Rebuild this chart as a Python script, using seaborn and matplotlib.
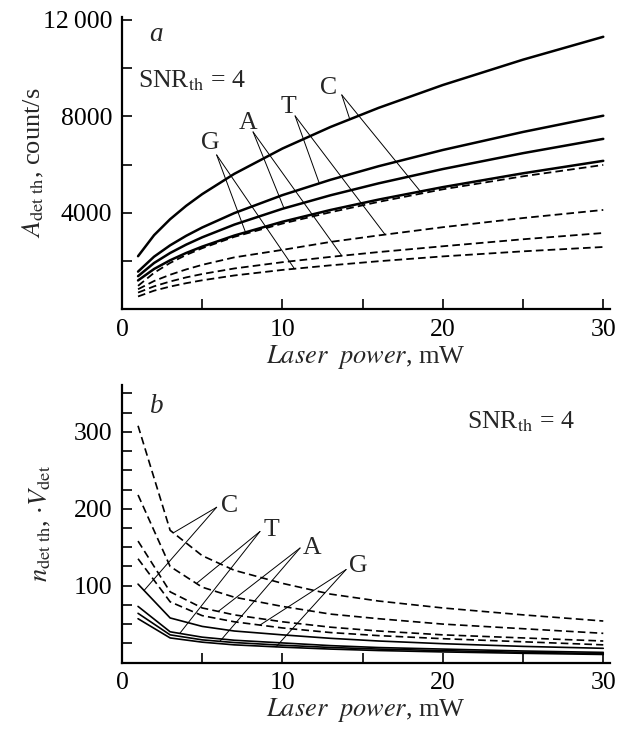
import numpy as np
import pandas as pd
import matplotlib
matplotlib.use("Agg")
import matplotlib.pyplot as plt
import seaborn as sns

# ---- data -------------------------------------------------------------
bases = ["C", "T", "A", "G"]

# panel a: threshold detection rate vs laser power
power_a = [1, 2, 3, 4, 5, 7, 10, 13, 16, 20, 25, 30]
rate_solid = {
    "C": [2208, 3080, 3741, 4296, 4781, 5621, 6669, 7564, 8356, 9302, 10353, 11300],
    "T": [1569, 2189, 2659, 3053, 3398, 3994, 4739, 5375, 5938, 6610, 7357, 8030],
    "A": [1381, 1927, 2341, 2688, 2991, 3517, 4173, 4733, 5228, 5820, 6478, 7070],
    "G": [1204, 1679, 2040, 2342, 2606, 3064, 3636, 4124, 4555, 5071, 5644, 6160],
}
rate_dashed = {
    "C": [980, 1520, 1930, 2260, 2540, 3010, 3560, 4030, 4460, 4980, 5520, 5990],
    "T": [840, 1180, 1440, 1660, 1850, 2160, 2470, 2800, 3070, 3410, 3790, 4125],
    "A": [700, 960, 1160, 1330, 1470, 1700, 1960, 2180, 2380, 2620, 2910, 3170],
    "G": [540, 780, 950, 1090, 1210, 1410, 1640, 1830, 2000, 2200, 2410, 2590],
}

# panel b: threshold molecule number times detection volume
power_b = [1, 3, 5, 7, 10, 13, 16, 20, 25, 30]
num_solid = {
    "C": [102, 58, 47, 41, 36, 31.5, 28, 24.5, 21, 18.5],
    "T": [73, 40, 33, 29, 25.5, 22, 19.5, 17.5, 15, 13.2],
    "A": [64, 36, 29.5, 26, 22.5, 19.6, 17.5, 15.5, 13.3, 11.6],
    "G": [57, 32, 26.5, 23, 20, 17.5, 15.6, 13.8, 12, 10.5],
}
num_dashed = {
    "C": [308, 172, 139, 120, 103, 89, 80, 71, 62, 54],
    "T": [218, 125, 98, 85, 73, 63, 57, 50, 44, 38],
    "A": [158, 92, 71, 62, 53, 46, 41, 36, 32, 28],
    "G": [135, 79, 61, 53, 45, 39, 35, 31, 27, 23],
}

# label text position, line start and the x positions where leader lines meet curves
callouts_a = {
    "C": {"text": (12.86, 9169), "start": (13.7, 8891), "solid_x": 14.2, "dashed_x": 18.7},
    "T": {"text": (10.37, 8406), "start": (10.79, 8021), "solid_x": 12.3, "dashed_x": 16.4},
    "A": {"text": (7.86, 7730), "start": (8.17, 7358), "solid_x": 10.1, "dashed_x": 13.7},
    "G": {"text": (5.49, 6900), "start": (5.9, 6404), "solid_x": 7.7, "dashed_x": 10.75},
}
callouts_b = {
    "C": {"text": (6.73, 203), "start": (5.9, 202), "solid_x": 1.375, "dashed_x": 3.2},
    "T": {"text": (9.33, 173), "start": (8.6, 170.5), "solid_x": 3.6, "dashed_x": 4.64},
    "A": {"text": (11.83, 149), "start": (11.1, 149), "solid_x": 6.1, "dashed_x": 6.0},
    "G": {"text": (14.73, 125), "start": (13.97, 121), "solid_x": 9.6, "dashed_x": 8.6},
}


def long_frame(power, solid, dashed):
    rows = []
    for kind, table in (("solid", solid), ("dashed", dashed)):
        for b in bases:
            for p, v in zip(power, table[b]):
                rows.append({"power": p, "value": v, "base": b, "kind": kind})
    return pd.DataFrame(rows)


df_a = long_frame(power_a, rate_solid, rate_dashed)
df_b = long_frame(power_b, num_solid, num_dashed)

# ---- style ------------------------------------------------------------
sns.set_theme(style="ticks")
plt.rcParams["font.family"] = ["Liberation Serif", "DejaVu Serif"]
plt.rcParams["mathtext.fontset"] = "stix"
plt.rcParams["lines.scale_dashes"] = False

TICK_FS = 18.5
LABEL_FS = 19
TEXT_FS = 18.5

fig = plt.figure(figsize=(6.25, 7.32), dpi=100)
ax_a = fig.add_axes([0.1952, 0.5772, 0.7803, 0.3999])
ax_b = fig.add_axes([0.1952, 0.0949, 0.7803, 0.3791])


def draw_curves(ax, df, lw_solid, lw_dashed):
    for (kind, b), sub in df.groupby(["kind", "base"], sort=False):
        sns.lineplot(
            data=sub, x="power", y="value", ax=ax, color="black",
            lw=lw_solid if kind == "solid" else lw_dashed,
            linestyle="-" if kind == "solid" else (0, (5.5, 3)),
            estimator=None, sort=True, legend=False,
        )


def draw_callouts(ax, callouts, power, solid, dashed):
    for b, c in callouts.items():
        ax.text(*c["text"], b, fontsize=TEXT_FS, ha="center", va="center")
        for xe, table in ((c["solid_x"], solid), (c["dashed_x"], dashed)):
            ye = np.interp(xe, power, table[b])
            ax.plot([c["start"][0], xe], [c["start"][1], ye], color="black", lw=0.7)


def style_axes(ax):
    for side in ("top", "right"):
        ax.spines[side].set_visible(False)
    for side in ("left", "bottom"):
        ax.spines[side].set_linewidth(1.6)
        ax.spines[side].set_color("black")
    ax.tick_params(which="both", direction="in", length=7, width=1.2,
                   colors="black", labelsize=TICK_FS, pad=7)
    ax.set_xlim(0, 30.4)
    ax.set_xticks(np.arange(0, 31, 10))
    ax.set_xticks(np.arange(5, 31, 10), minor=True)
    ax.set_xlabel(r"$\mathit{Laser\ \ power}$, mW", fontsize=LABEL_FS, labelpad=1)


# panel a
draw_curves(ax_a, df_a, 1.8, 1.3)
draw_callouts(ax_a, callouts_a, power_a, rate_solid, rate_dashed)
style_axes(ax_a)
ax_a.set_ylim(0, 12130)
ax_a.set_yticks([4000, 8000, 12000])
ax_a.set_yticklabels(["4000", "8000", "12\u2009000"])
ax_a.set_yticks([2000, 6000, 10000], minor=True)
ax_a.set_ylabel(r"$A_{\rm det\ th}$, count/s", fontsize=LABEL_FS, labelpad=-2)
ax_a.text(2.15, 11400, "a", fontsize=TEXT_FS + 1, style="italic", ha="center", va="center")
ax_a.text(1.0, 9500, r"SNR$_{\rm th}$ = 4", fontsize=TEXT_FS, ha="left", va="center")

# panel b
draw_curves(ax_b, df_b, 1.2, 1.2)
draw_callouts(ax_b, callouts_b, power_b, num_solid, num_dashed)
style_axes(ax_b)
ax_b.set_ylim(0, 361)
ax_b.set_yticks([100, 200, 300])
ax_b.set_yticks([25, 50, 75, 125, 150, 175, 225, 250, 275, 325, 350], minor=True)
ax_b.set_ylabel(r"$n_{\rm det\ th}$, $\cdot V_{\rm det}$", fontsize=LABEL_FS, labelpad=15)
ax_b.text(2.15, 333, "b", fontsize=TEXT_FS + 1, style="italic", ha="center", va="center")
ax_b.text(21.5, 313, r"SNR$_{\rm th}$ = 4", fontsize=TEXT_FS, ha="left", va="center")

fig.savefig("out.png", dpi=100)
